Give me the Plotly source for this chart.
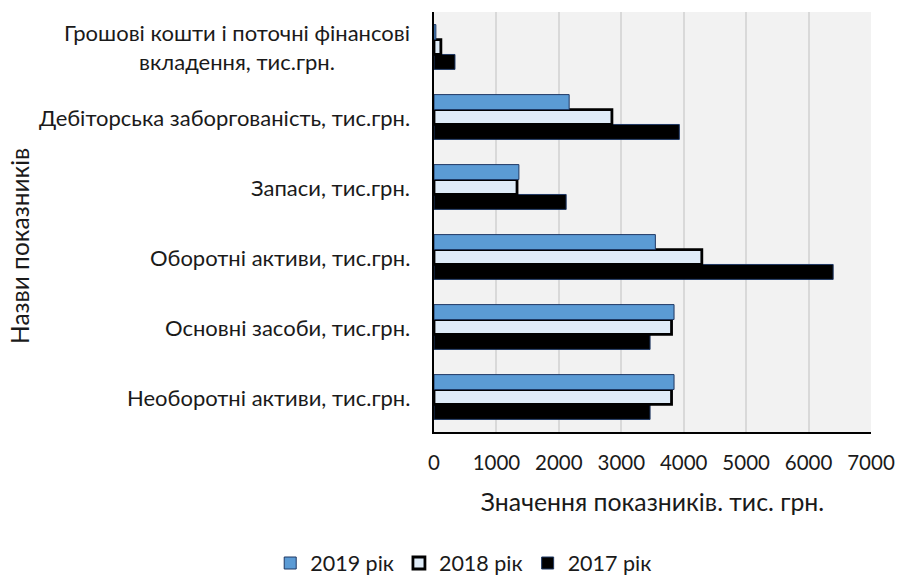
import plotly.graph_objects as go

# Categories listed bottom-to-top as they appear on the category axis
categories = [
    "Необоротні активи, тис.грн.",
    "Основні засоби, тис.грн.",
    "Оборотні активи, тис.грн.",
    "Запаси, тис.грн.",
    "Дебіторська заборгованість, тис.грн.",
    "Грошові кошти і поточні фінансові<br>вкладення, тис.грн.",
]

values_2019 = [3845, 3845, 3546, 1360, 2165, 30]
values_2018 = [3805, 3805, 4290, 1330, 2850, 110]
values_2017 = [3461, 3461, 6394, 2117, 3930, 336]

x_ticks = [0, 1000, 2000, 3000, 4000, 5000, 6000, 7000]

FONT = "Lato"
TXT = "#1a1a1a"

fig = go.Figure()

# Added 2017 first so it sits at the bottom of each group
fig.add_trace(go.Bar(
    name="2017 рік", y=categories, x=values_2017, orientation="h",
    marker=dict(color="#000000", line=dict(color="#1f3864", width=1)),
))
fig.add_trace(go.Bar(
    name="2018 рік", y=categories, x=values_2018, orientation="h",
    marker=dict(color="#deebf7", line=dict(color="#000000", width=2.8)),
))
fig.add_trace(go.Bar(
    name="2019 рік", y=categories, x=values_2019, orientation="h",
    marker=dict(color="#5b9bd5", line=dict(color="#1f3864", width=1)),
))

# Category labels drawn as centred multi-line annotations next to the axis
annotations = []
for i, cat in enumerate(categories):
    annotations.append(dict(
        x=0, xref="paper", y=i, yref="y",
        text=cat, showarrow=False, xanchor="right", yanchor="middle",
        align="center", xshift=-22,
        font=dict(family=FONT, size=22, color=TXT),
    ))

# Vertical axis title
annotations.append(dict(
    x=0, xref="paper", y=0.443, yref="paper",
    text="Назви показників", showarrow=False, textangle=-90,
    xanchor="center", yanchor="middle", xshift=-414,
    font=dict(family=FONT, size=24.5, color=TXT),
))

fig.update_layout(
    width=899, height=584,
    margin=dict(l=434, r=28, t=12, b=152, autoexpand=False),
    paper_bgcolor="white",
    plot_bgcolor="#f2f2f2",
    barmode="group",
    bargap=0.36,
    bargroupgap=0,
    font=dict(family=FONT, size=21, color=TXT),
    showlegend=True,
    legend=dict(
        orientation="h", traceorder="reversed",
        x=0.068, xanchor="center",
        y=-0.312, yanchor="middle",
        itemwidth=30,
        font=dict(family=FONT, size=21.5, color=TXT),
    ),
    annotations=annotations,
    xaxis=dict(
        type="linear",
        range=[0, 7000], tickvals=x_ticks,
        ticktext=[str(v) for v in x_ticks],
        showgrid=True, gridcolor="#d9d9d9", gridwidth=1.5,
        zeroline=False,
        showline=True, linecolor="#000000", linewidth=1.5,
        ticks="outside", ticklen=12, tickcolor="rgba(0,0,0,0)",
        automargin=False,
        tickfont=dict(family=FONT, size=20.5, color=TXT),
        title=dict(text="Значення показників. тис. грн.", standoff=20,
                   font=dict(family=FONT, size=24.8, color=TXT)),
    ),
    yaxis=dict(
        type="category",
        categoryorder="array", categoryarray=categories,
        showticklabels=False, ticks="",
        showgrid=False, zeroline=False,
        automargin=False,
        showline=True, linecolor="#000000", linewidth=1.5,
    ),
)

fig.write_html("out.html")
